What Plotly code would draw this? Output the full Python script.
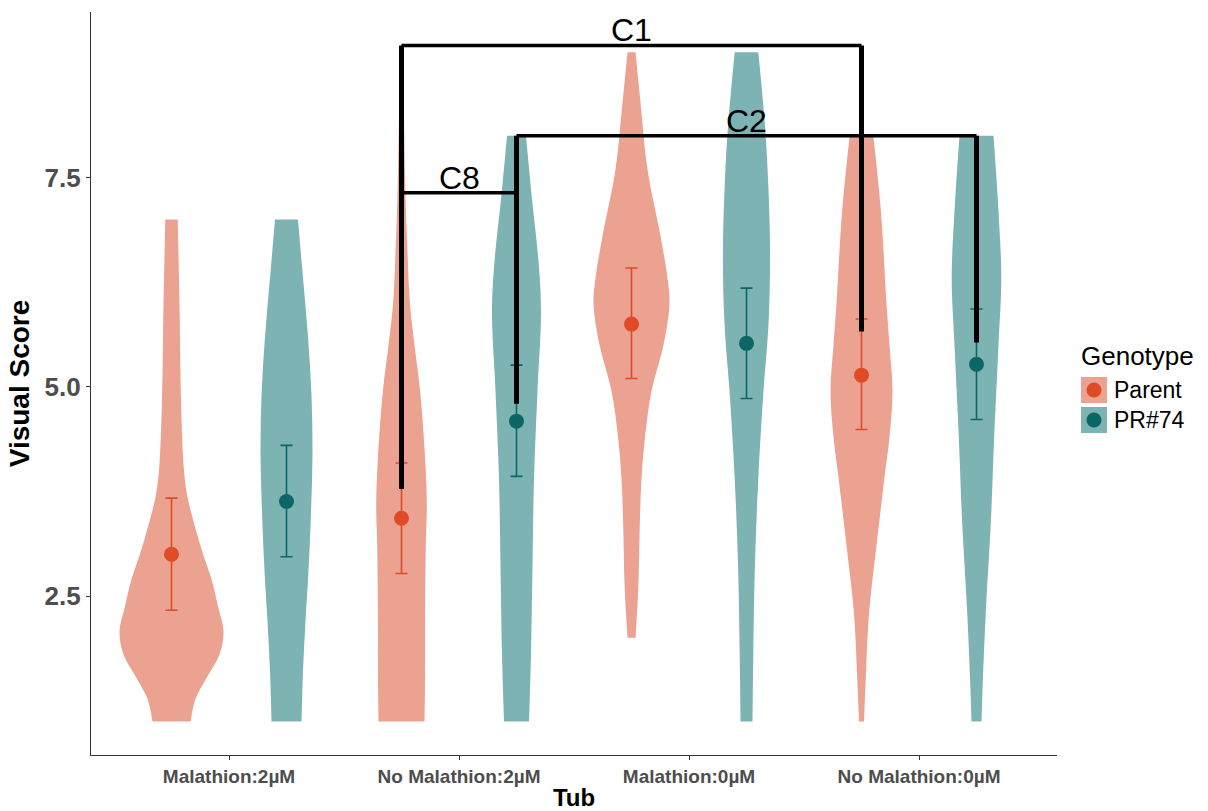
import plotly.graph_objects as go

# ---------------- data ----------------
categories = ["Malathion:2µM", "No Malathion:2µM", "Malathion:0µM", "No Malathion:0µM"]
genotypes = ["Parent", "PR#74"]

# mean visual score and interval (lower / upper) per tub
parent_mean = [3.00, 3.43, 5.75, 5.14]
parent_low = [2.33, 2.77, 5.10, 4.49]
parent_high = [3.67, 4.09, 6.42, 5.81]
pr74_mean = [3.63, 4.59, 5.52, 5.27]
pr74_low = [2.97, 3.93, 4.86, 4.61]
pr74_high = [4.30, 5.26, 6.18, 5.93]

# violin outlines: score levels and density half-widths (1/230 of a category)
parent_violin_y = [
    [1.0, 1.27, 1.52, 1.8, 2.08, 2.35, 2.7, 3.02, 3.35, 3.68, 4.0, 4.8, 6.0, 7.0],
    [1.0, 1.5, 2.3, 3.1, 3.6, 4.15, 4.95, 5.5, 6.0, 6.6, 7.3, 8.2, 9.0],
    [2.0, 2.6, 3.4, 3.9, 4.4, 4.95, 5.5, 6.0, 6.3, 6.8, 7.6, 8.4, 9.0],
    [1.0, 1.5, 2.3, 3.1, 3.9, 4.4, 4.95, 5.5, 6.0, 7.1, 8.0],
]
parent_violin_w = [
    [19, 24, 35, 48, 52, 47, 40, 31, 23, 16, 12.5, 9.6, 8.0, 6.2],
    [23, 23.5, 23.6, 24.3, 25.3, 23.6, 18.6, 13, 8.4, 6, 4, 2.5, 1.5],
    [4, 6.8, 8.4, 10, 13.5, 20, 32, 38, 36, 29, 16, 9, 4],
    [2.5, 4.2, 7.6, 15, 22.8, 28, 31, 28, 25, 19.4, 11.8],
]
pr74_violin_y = [
    [1.0, 1.6, 2.2, 2.8, 3.5, 4.2, 4.9, 5.6, 6.3, 7.0],
    [1.0, 1.8, 2.85, 3.9, 4.95, 5.9, 6.5, 7.3, 8.0],
    [1.0, 1.8, 2.85, 3.9, 4.95, 5.75, 6.55, 7.35, 8.1, 9.0],
    [1.0, 1.5, 2.3, 3.4, 4.4, 5.5, 6.3, 7.1, 8.0],
]
pr74_violin_w = [
    [15, 16.5, 19, 22, 24.5, 26, 25, 21.5, 16.5, 11.5],
    [12.5, 14.5, 16, 17.5, 21, 24.5, 22, 15, 9.5],
    [6, 6.8, 8.4, 11.8, 17, 22, 23.6, 22, 18.6, 11.8],
    [5, 6.4, 9.3, 14.4, 17.7, 22, 24.8, 22, 17],
]

# comparison brackets: (tub index, genotype index) at each end
bracket_labels = ["C1", "C2", "C8"]
bracket_left = [(1, 0), (1, 1), (1, 0)]
bracket_right = [(3, 0), (3, 1), (1, 1)]
bracket_top = [9.08, 8.0, 7.32]
bracket_left_end = [3.78, 4.80, 3.78]
bracket_right_end = [5.66, 5.53, 4.80]

y_ticks = [2.5, 5.0, 7.5]
y_tick_labels = ["2.5", "5.0", "7.5"]

# ---------------- styling ----------------
VIOLIN_COLORS = ["#EBA291", "#7DB3B2"]
POINT_COLORS = ["#E04B27", "#0D6666"]
DODGE = 0.25
WIDTH_UNIT = 1 / 230.0
FONT = "Liberation Sans, Arial, Helvetica, sans-serif"

W, H = 1208, 811
ML, MR, MT, MB = 91, 151, 12, 56
PW, PH = W - ML - MR, H - MT - MB


def xpos(ci, gi):
    return ci + 1 + (gi * 2 - 1) * DODGE


def px_to_paper(px, py):
    return (px - ML) / PW, (H - MB - py) / PH


fig = go.Figure()

groups = [
    (parent_violin_y, parent_violin_w, parent_mean, parent_low, parent_high),
    (pr74_violin_y, pr74_violin_w, pr74_mean, pr74_low, pr74_high),
]

for gi, (vys, vws, means, lows, highs) in enumerate(groups):
    for ci in range(len(categories)):
        xc = xpos(ci, gi)
        ys = vys[ci]
        ws = vws[ci]
        xl = [xc - w * WIDTH_UNIT for w in ws]
        xr = [xc + w * WIDTH_UNIT for w in ws]
        edge = dict(width=0, shape="spline", smoothing=1.0, color=VIOLIN_COLORS[gi])
        fig.add_trace(go.Scatter(x=xl, y=ys, mode="lines", line=edge,
                                 hoverinfo="skip", showlegend=False))
        fig.add_trace(go.Scatter(x=xr, y=ys, mode="lines", line=edge,
                                 fill="tonextx", fillcolor=VIOLIN_COLORS[gi],
                                 hoverinfo="skip", showlegend=False))

# brackets
for i, lab in enumerate(bracket_labels):
    xl = xpos(*bracket_left[i])
    xr = xpos(*bracket_right[i])
    top = bracket_top[i]
    fig.add_shape(type="line", x0=xl, x1=xr, y0=top, y1=top, xref="x", yref="y",
                  line=dict(color="black", width=3.5))
    fig.add_shape(type="line", x0=xl, x1=xl, y0=top, y1=bracket_left_end[i], xref="x", yref="y",
                  line=dict(color="black", width=5))
    fig.add_shape(type="line", x0=xr, x1=xr, y0=top, y1=bracket_right_end[i], xref="x", yref="y",
                  line=dict(color="black", width=5))
    fig.add_annotation(x=(xl + xr) / 2, y=top, text=lab, showarrow=False,
                       yanchor="bottom", yshift=-5,
                       font=dict(family=FONT, size=32, color="black"))

for gi, (vys, vws, means, lows, highs) in enumerate(groups):
    xs = [xpos(ci, gi) for ci in range(len(categories))]
    fig.add_trace(go.Scatter(
        x=xs, y=means, mode="markers", name=genotypes[gi],
        marker=dict(color=POINT_COLORS[gi], size=15),
        error_y=dict(type="data", symmetric=False,
                     array=[h - m for h, m in zip(highs, means)],
                     arrayminus=[m - l for m, l in zip(means, lows)],
                     color=POINT_COLORS[gi], thickness=1.6, width=6),
        showlegend=False, hoverinfo="skip",
    ))

# legend (drawn as keys + text, ggplot style)
tx, ty = px_to_paper(1079, 356)
fig.add_annotation(x=tx, y=ty, xref="paper", yref="paper", text="Genotype",
                   showarrow=False, xanchor="left", yanchor="middle",
                   font=dict(family=FONT, size=26, color="black"))
for gi, name in enumerate(genotypes):
    top = 377 + gi * 30
    x0, y0 = px_to_paper(1081, top + 26)
    x1, y1 = px_to_paper(1107, top)
    fig.add_shape(type="rect", xref="paper", yref="paper", x0=x0, x1=x1, y0=y0, y1=y1,
                  fillcolor=VIOLIN_COLORS[gi], line=dict(width=0), layer="above")
    cx0, cy0 = px_to_paper(1086.5, top + 20.5)
    cx1, cy1 = px_to_paper(1101.5, top + 5.5)
    fig.add_shape(type="circle", xref="paper", yref="paper", x0=cx0, x1=cx1, y0=cy0, y1=cy1,
                  fillcolor=POINT_COLORS[gi], line=dict(width=0), layer="above")
    lx, ly = px_to_paper(1112, top + 13)
    fig.add_annotation(x=lx, y=ly, xref="paper", yref="paper", text=name,
                       showarrow=False, xanchor="left", yanchor="middle",
                       font=dict(family=FONT, size=23, color="black"))

fig.update_layout(
    width=W, height=H,
    margin=dict(l=ML, r=MR, t=MT, b=MB, autoexpand=False),
    showlegend=False,
    plot_bgcolor="white", paper_bgcolor="white",
    font=dict(family=FONT, color="black"),
    xaxis=dict(
        range=[0.4, 4.6], tickvals=[1, 2, 3, 4],
        ticktext=["<b>%s</b>" % c for c in categories],
        tickfont=dict(family=FONT, size=19, color="#4D4D4D"),
        showline=True, linecolor="#333333", linewidth=1.3,
        ticks="outside", ticklen=4, tickcolor="#333333",
        showgrid=False, zeroline=False, automargin=False,
        title=dict(text="<b>Tub</b>", font=dict(family=FONT, size=24, color="black"), standoff=4),
    ),
    yaxis=dict(
        range=[0.6, 9.48], tickvals=y_ticks,
        ticktext=["<b>%s</b>" % t for t in y_tick_labels],
        tickfont=dict(family=FONT, size=26, color="#4D4D4D"),
        showline=True, linecolor="#333333", linewidth=1.3,
        ticks="outside", ticklen=4, tickcolor="#333333",
        showgrid=False, zeroline=False, automargin=False,
        title=dict(text="<b>Visual Score</b>", font=dict(family=FONT, size=28, color="black"), standoff=6),
    ),
)

fig.write_html("out.html", config={"displayModeBar": False},
               post_script="document.body.style.margin='0px';")
